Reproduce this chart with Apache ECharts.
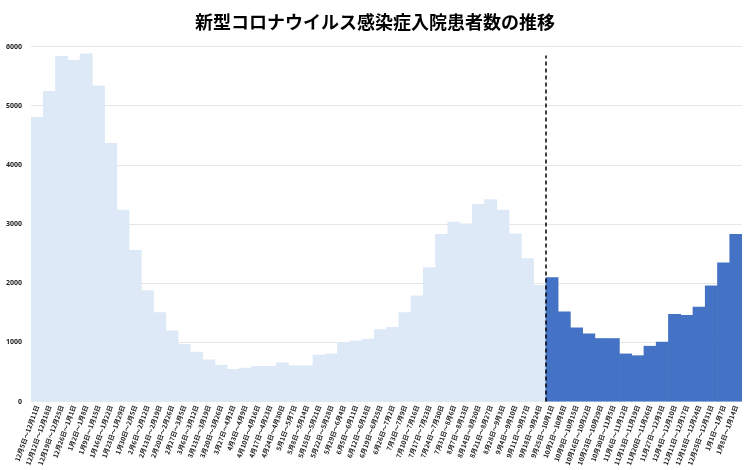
<!DOCTYPE html>
<html>
<head>
<meta charset="utf-8">
<script src="https://cdn.jsdelivr.net/npm/echarts@6/dist/echarts.min.js"></script>
<style>
html,body{margin:0;padding:0;background:#fff;}
#chart{width:750px;height:470px;}
</style>
</head>
<body>
<div id="chart"></div>
<script>
const categories = [
  "12月5日～12月11日","12月12日～12月18日","12月19日～12月25日","12月26日～1月1日",
  "1月2日～1月8日","1月9日～1月15日","1月16日～1月22日","1月23日～1月29日",
  "1月30日～2月5日","2月6日～2月12日","2月13日～2月19日","2月20日～2月26日",
  "2月27日～3月5日","3月6日～3月12日","3月13日～3月19日","3月20日～3月26日",
  "3月27日～4月2日","4月3日～4月9日","4月10日～4月16日","4月17日～4月23日",
  "4月24日～4月30日","5月1日～5月7日","5月8日～5月14日","5月15日～5月21日",
  "5月22日～5月28日","5月29日～6月4日","6月5日～6月11日","6月12日～6月18日",
  "6月19日～6月25日","6月26日～7月2日","7月3日～7月9日","7月10日～7月16日",
  "7月17日～7月23日","7月24日～7月30日","7月31日～8月6日","8月7日～8月13日",
  "8月14日～8月20日","8月21日～8月27日","8月28日～9月3日","9月4日～9月10日",
  "9月11日～9月17日","9月18日～9月24日","9月25日～10月1日","10月2日～10月8日",
  "10月9日～10月15日","10月16日～10月22日","10月23日～10月29日","10月30日～11月5日",
  "11月6日～11月12日","11月13日～11月19日","11月20日～11月26日","11月27日～12月3日",
  "12月4日～12月10日","12月11日～12月17日","12月18日～12月24日","12月25日～12月31日",
  "1月1日～1月7日","1月8日～1月14日"
];
const lightValues = [
  4810,5250,5840,5770,5880,5340,4370,3240,2560,1880,1510,1200,970,840,
  710,620,550,570,600,600,660,610,610,790,810,1000,1030,1060,1220,1260,
  1510,1790,2270,2830,3040,3010,3340,3420,3240,2840,2420,1970
];
const darkValues = [
  2100,1520,1250,1150,1070,1070,810,780,940,1010,1480,1460,1600,1960,2350,2830
];
const yTicks = [0,1000,2000,3000,4000,5000,6000];
const titleText = "新型コロナウイルス感染症入院患者数の推移";

const lightColor = "#dde9f6";
const darkColor = "#4472c4";

const barData = lightValues.map(v => ({value: v, itemStyle: {color: lightColor}}))
  .concat(darkValues.map(v => ({value: v, itemStyle: {color: darkColor}})));
const dividerPos = lightValues.length;

const chart = echarts.init(document.getElementById('chart'), null, {renderer: 'canvas'});
chart.setOption({
  animation: false,
  backgroundColor: '#fff',
  title: {
    text: titleText,
    left: 'center',
    top: 8,
    textStyle: {
      fontFamily: '"Noto Sans CJK JP", sans-serif',
      fontSize: 18,
      fontWeight: 'bold',
      color: '#000'
    }
  },
  grid: {left: 31, right: 8, top: 46.5, bottom: 68.5, containLabel: false},
  xAxis: [{
    type: 'category',
    data: categories,
    boundaryGap: true,
    axisTick: {show: false},
    axisLine: {show: false},
    axisLabel: {
      interval: 0,
      rotate: 70,
      fontSize: 6.5,
      margin: 4,
      color: '#222',
      fontWeight: 'bold',
      fontFamily: '"Noto Sans CJK JP", sans-serif'
    }
  }, {
    type: 'value',
    min: 0,
    max: categories.length,
    show: false
  }],
  yAxis: {
    type: 'value',
    min: yTicks[0],
    max: yTicks[yTicks.length - 1],
    interval: 1000,
    axisLine: {show: false},
    axisTick: {show: false},
    axisLabel: {
      fontSize: 7,
      color: '#222',
      fontWeight: 'bold',
      margin: 9,
      formatter: v => String(v),
      fontFamily: '"Noto Sans", sans-serif'
    },
    splitLine: {lineStyle: {color: '#e6e6e6', width: 1}}
  },
  series: [{
    type: 'bar',
    xAxisIndex: 0,
    data: barData,
    barWidth: 12.9,
    barCategoryGap: '0%'
  }, {
    type: 'line',
    xAxisIndex: 1,
    yAxisIndex: 0,
    data: [],
    silent: true,
    z: 5,
    markLine: {
      silent: true,
      symbol: ['none', 'none'],
      label: {show: false},
      lineStyle: {color: '#000', width: 1.5, type: [4, 3]},
      data: [[{coord: [dividerPos, 0]}, {coord: [dividerPos, 5850]}]]
    }
  }]
});
</script>
</body>
</html>
